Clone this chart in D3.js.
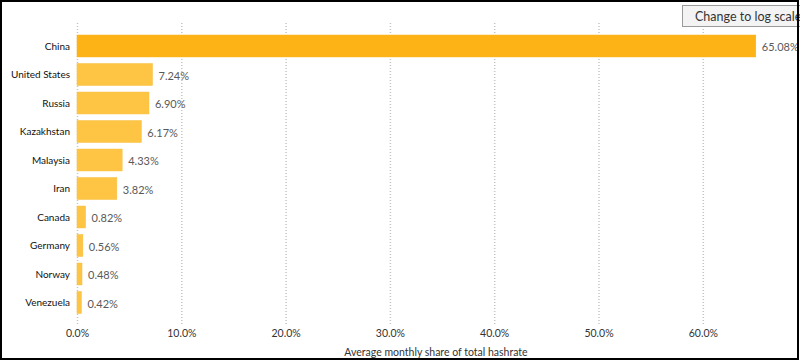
<!DOCTYPE html>
<html><head><meta charset="utf-8">
<script src="https://cdn.jsdelivr.net/npm/d3@7"></script>
<style>
html,body{margin:0;padding:0;background:#fff;overflow:hidden}
svg{display:block;font-family:Lato,"Noto Sans",sans-serif}
</style></head>
<body><svg id="c" width="800" height="361"></svg>
<script>
const countries = ["China","United States","Russia","Kazakhstan","Malaysia","Iran","Canada","Germany","Norway","Venezuela"];
const shares = [65.08,7.24,6.90,6.17,4.33,3.82,0.82,0.56,0.48,0.42];
const xTicks = [0,10,20,30,40,50,60];
const axisTitle = "Average monthly share of total hashrate";
const buttonLabel = "Change to log scale";

const svg = d3.select("#c");
const W = 800, H = 361;
const left = 77, right = 795;
const x = d3.scaleLinear().domain([0, 68.84]).range([left, right]);
const y = d3.scaleBand().domain(countries).range([31.75, 316.75]).paddingInner(0.23).paddingOuter(0.115);
const FONT = 'Lato,"Noto Sans",sans-serif';

// gridlines
svg.append("g").selectAll("line").data(xTicks).join("line")
  .attr("x1", d => x(d)+0.5).attr("x2", d => x(d)+0.5)
  .attr("y1", 23).attr("y2", 326)
  .attr("stroke", "#c4c4c4").attr("stroke-width", 1.5).attr("stroke-dasharray", "1,2");

// bars
svg.append("g").selectAll("rect").data(countries).join("rect")
  .attr("x", x(0)).attr("y", d => y(d))
  .attr("width", (d,i) => x(shares[i]) - x(0))
  .attr("height", y.bandwidth())
  .attr("fill", (d,i) => i === 0 ? "#FDB316" : "#FEC444")
  .attr("stroke", (d,i) => i === 0 ? "#F9B010" : "#F8BE3C").attr("stroke-width", 0.5);

// value labels
svg.append("g").selectAll("text").data(countries).join("text")
  .attr("x", (d,i) => x(shares[i]) + 6)
  .attr("y", d => y(d) + y.bandwidth()/2 + 1.5)
  .attr("dy", "0.35em")
  .attr("font-size", 11).attr("fill", "#595959")
  .text((d,i) => shares[i].toFixed(2) + "%");

// category labels
svg.append("g").selectAll("text").data(countries).join("text")
  .attr("x", 70).attr("y", d => y(d) + y.bandwidth()/2)
  .attr("dy", "0.35em").attr("text-anchor", "end")
  .attr("font-size", 10).attr("fill", "#111")
  .text(d => d);

// x axis tick labels
const xAxis = d3.axisBottom(x).tickValues(xTicks).tickSize(0).tickPadding(0)
  .tickFormat(d => d.toFixed(1) + "%");
const ax = svg.append("g").attr("transform", "translate(0,330)").call(xAxis);
ax.select(".domain").remove();
ax.selectAll("text").attr("font-size", 10.5).attr("fill", "#333")
  .attr("font-family", FONT);

// axis title
svg.append("text").attr("x", (left+right)/2).attr("y", 356)
  .attr("text-anchor", "middle").attr("font-size", 10.5).attr("fill", "#333")
  .text(axisTitle);

// button
const b = svg.append("g");
b.append("rect").attr("x", 682.5).attr("y", 5.5).attr("width", 130).attr("height", 21)
  .attr("fill", "#f3f3f3").attr("stroke", "#9a9a9a").attr("stroke-width", 1);
b.append("text").attr("x", 695).attr("y", 16.5).attr("dy", "0.35em")
  .attr("font-size", 12.5).attr("fill", "#333").text(buttonLabel);

// outer border
svg.append("rect").attr("x", 1).attr("y", 1).attr("width", W-3).attr("height", H-3)
  .attr("fill", "none").attr("stroke", "#000").attr("stroke-width", 2);
</script></body></html>
